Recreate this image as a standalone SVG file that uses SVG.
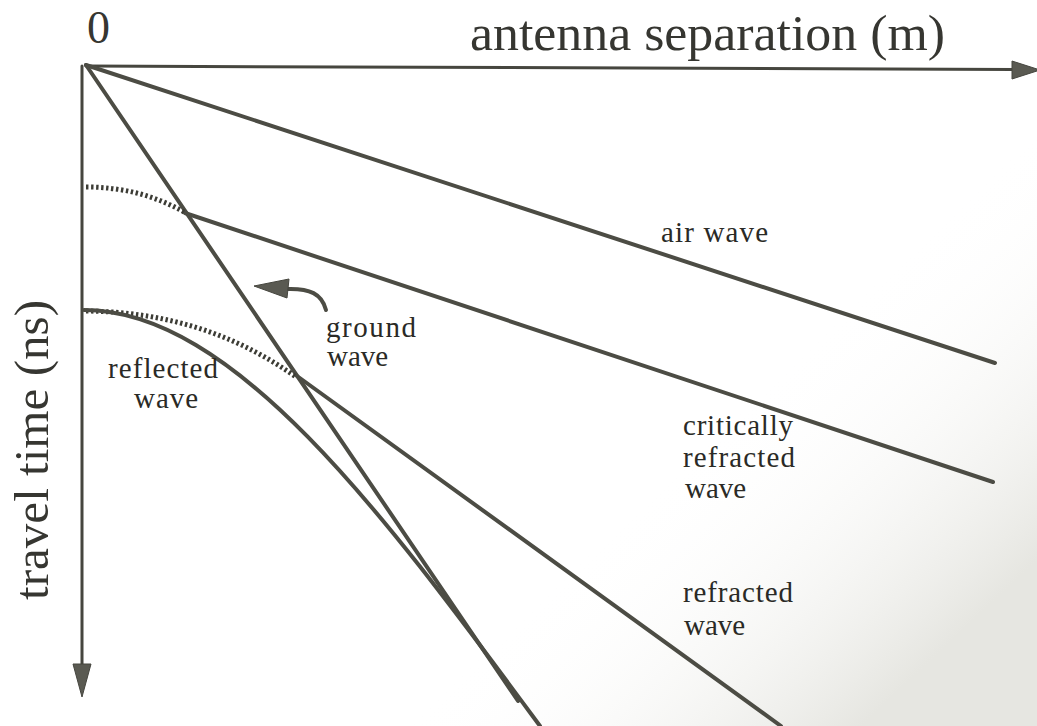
<svg xmlns="http://www.w3.org/2000/svg" width="1037" height="726" viewBox="0 0 1037 726">
  <defs>
    <style>
      .ln { fill: none; stroke: #4c4c44; stroke-width: 4; stroke-linecap: round; stroke-linejoin: round; }
      .ax { fill: none; stroke: #46463f; stroke-width: 3; stroke-linecap: round; }
      .dot { fill: none; stroke: #3c3c35; stroke-width: 5; stroke-dasharray: 2.4 2.6; }
      .head { fill: #5a5a52; stroke: #46463f; stroke-width: 1; stroke-linejoin: round; }
      .big { font-family: "Liberation Serif", "Times New Roman", serif; fill: #363631; }
      .lbl { font-family: "Liberation Serif", "Times New Roman", serif; font-size: 29px; fill: #2a2a26; }
    </style>
    <linearGradient id="shade" gradientUnits="userSpaceOnUse" x1="820" y1="330" x2="1037" y2="560">
      <stop offset="0" stop-color="#ffffff" stop-opacity="0"/>
      <stop offset="1" stop-color="#e6e6e1" stop-opacity="1"/>
    </linearGradient>
  </defs>
  <rect width="1037" height="726" fill="#ffffff"/>
  <rect width="1037" height="726" fill="url(#shade)"/>

  <g id="axes">
    <line class="ax" x1="86" y1="66" x2="1014" y2="69.5"/>
    <polygon class="head" points="1012,61 1040,70 1012,79"/>
    <line class="ax" x1="82" y1="66" x2="82" y2="672"/>
    <polygon class="head" points="73,664 91,664 82,697"/>
    <text class="big" x="87" y="43" font-size="46">0</text>
    <text class="big" x="470" y="50" font-size="50" textLength="475" lengthAdjust="spacingAndGlyphs">antenna separation (m)</text>
    <text class="big" transform="translate(48,450) rotate(-90)" text-anchor="middle" font-size="48" textLength="300" lengthAdjust="spacingAndGlyphs">travel time (ns)</text>
  </g>

  <g id="connectors">
    <line id="air-wave-line" class="ln" x1="86" y1="65" x2="995" y2="363"/>
    <line id="ground-wave-line" class="ln" x1="86" y1="65" x2="518" y2="701"/>
    <line id="critical-line" class="ln" x1="185" y1="213" x2="993" y2="482"/>
    <path id="upper-dotted" class="dot" d="M86,187 Q140,187 184,212"/>
    <path id="lower-dotted" class="dot" d="M86,311 Q205,312 296,377"/>
    <path id="reflected-curve" class="ln" d="M84,310 C236,310 390,523 540,726"/>
    <line id="refracted-line" class="ln" x1="297" y1="376" x2="781" y2="726"/>
    <path id="ground-arrow" class="ln" stroke-width="3" d="M326,310 C322,294 310,288 286,289"/>
    <polygon class="head" points="254,286 289,279 287,298"/>
  </g>

  <g id="air-wave-label">
    <text class="lbl" x="661" y="242" textLength="107">air wave</text>
  </g>
  <g id="ground-wave-label">
    <text class="lbl" x="326" y="337" textLength="90">ground</text>
    <text class="lbl" x="327" y="366">wave</text>
  </g>
  <g id="reflected-wave-label">
    <text class="lbl" x="108" y="378" font-size="25" textLength="110">reflected</text>
    <text class="lbl" x="166" y="408" font-size="25" text-anchor="middle" textLength="64">wave</text>
  </g>
  <g id="critically-refracted-label">
    <text class="lbl" x="683" y="435" textLength="110">critically</text>
    <text class="lbl" x="683" y="467" textLength="112">refracted</text>
    <text class="lbl" x="685" y="498">wave</text>
  </g>
  <g id="refracted-wave-label">
    <text class="lbl" x="683" y="602" textLength="110">refracted</text>
    <text class="lbl" x="684" y="635">wave</text>
  </g>
</svg>
